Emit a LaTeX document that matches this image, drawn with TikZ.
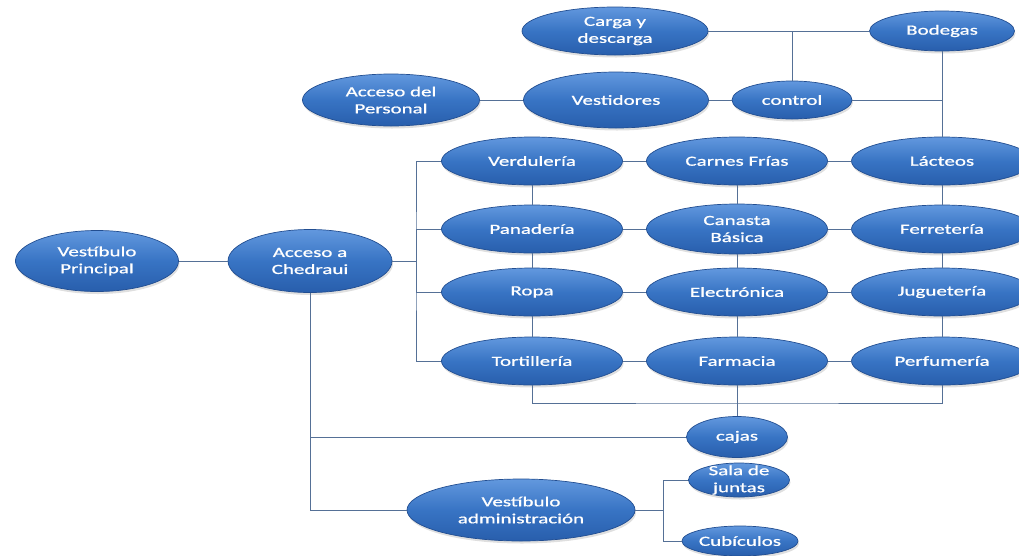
\documentclass[tikz,border=0pt]{standalone}
\usepackage{fontspec}
\setmainfont{Carlito}[FakeStretch=1.5,FakeBold=0.9]
\usepackage{xcolor}
\usetikzlibrary{shapes.geometric,shadows}

\definecolor{blobtop}{RGB}{98,152,222}
\definecolor{blobmid}{RGB}{56,116,196}
\definecolor{blobbot}{RGB}{40,94,172}
\definecolor{blobrim}{RGB}{34,78,145}
\definecolor{wirecol}{RGB}{85,112,150}

\begin{document}
\begin{tikzpicture}[
  x=1pt, y=-1pt,
  blob/.style={ellipse, draw=blobrim, line width=0.7pt, top color=blobtop, bottom color=blobbot, middle color=blobmid,
    inner sep=0pt, text=white, align=center, font=\fontsize{14}{17}\selectfont,
    drop shadow={opacity=0.25, shadow xshift=1pt, shadow yshift=-2.5pt}},
  cell/.style={blob, minimum width=181pt, minimum height=48pt},
  txt/.style={text=white, align=center, inner sep=0pt, font=\fontsize{14}{17}\selectfont},
  wire/.style={draw=wirecol, line width=1pt}
]
  \useasboundingbox (0,0) rectangle (1019,555);

  % entrada
  \node[blob, minimum width=163pt, minimum height=61pt] (vp) at (97,261) {Vestíbulo\\Principal};
  \node[blob, minimum width=164pt, minimum height=63pt] (ach) at (310,261) {Acceso a\\Chedraui};

  % zona de personal
  \node[blob, minimum width=177pt, minimum height=52pt] (adp) at (391,100) {Acceso del\\Personal};
  \node[blob, minimum width=185pt, minimum height=56pt] (vest) at (616,100) {Vestidores};
  \node[blob, minimum width=186pt, minimum height=48pt] (carga) at (615,31) {Carga y\\descarga};
  \node[blob, minimum width=120pt, minimum height=38pt] (ctrl) at (792,100) {control};
  \node[blob, minimum width=145pt, minimum height=40pt] (bod) at (942,31) {Bodegas};

  % departamentos
  \node[cell] (verd) at (532,161) {Verdulería};
  \node[cell] (carn) at (737,161) {Carnes Frías};
  \node[cell] (lact) at (942,161) {Lácteos};
  \node[cell] (pan) at (532,229) {Panadería};
  \node[cell, minimum height=50pt] (can) at (737,229) {Canasta\\Básica};
  \node[cell] (ferr) at (942,229) {Ferretería};
  \node[cell] (ropa) at (532,292) {Ropa};
  \node[cell] (elec) at (737,292) {Electrónica};
  \node[cell] (jug) at (942,292) {Juguetería};
  \node[cell] (tort) at (532,361) {Tortillería};
  \node[cell] (farm) at (737,361) {Farmacia};
  \node[cell] (perf) at (942,361) {Perfumería};

  \node[blob, minimum width=101pt, minimum height=41pt] (cajas) at (737,437) {cajas};

  % administracion
  \node[blob, minimum width=228pt, minimum height=62pt] (vadm) at (521,510) {Vestíbulo\\administración};
  \node[blob, minimum width=101pt, minimum height=34pt] (sala) at (739,480) {};
  \node[txt] (salatxt) at (sala) {Sala de\\juntas};
  \node[blob, minimum width=101pt, minimum height=30pt] (cub) at (740,541) {Cubículos};

  \coordinate (lbus) at (416,261);
  \coordinate (bbus) at (737,403);
  \coordinate (abus) at (663,510);

  \draw[wire] (vp) -- (ach);
  \draw[wire] (ach) -- (lbus);
  \draw[wire] (verd) -| (lbus) |- (tort);
  \draw[wire] (lbus) |- (pan);
  \draw[wire] (lbus) |- (ropa);

  \draw[wire] (adp) -- (vest);
  \draw[wire] (vest) -- (ctrl);
  \draw[wire] (carga) -- (bod);
  \draw[wire] (ctrl) -- (ctrl |- carga);
  \draw[wire] (ctrl) -- (ctrl -| bod);
  \draw[wire] (bod) -- (lact);

  \draw[wire] (verd) -- (carn) -- (lact);
  \draw[wire] (pan) -- (can) -- (ferr);
  \draw[wire] (ropa) -- (elec) -- (jug);
  \draw[wire] (tort) -- (farm) -- (perf);
  \draw[wire] (verd) -- (pan) -- (ropa) -- (tort);
  \draw[wire] (carn) -- (can) -- (elec) -- (farm);
  \draw[wire] (lact) -- (ferr) -- (jug) -- (perf);

  \draw[wire] (tort) |- (bbus) -| (perf);
  \draw[wire] (farm) -- (cajas);
  \draw[wire] (cajas) -- (cajas -| ach);
  \draw[wire] (ach) |- (vadm);
  \draw[wire] (vadm) -- (abus);
  \draw[wire] (sala) -| (abus) |- (cub);
\end{tikzpicture}
\end{document}
